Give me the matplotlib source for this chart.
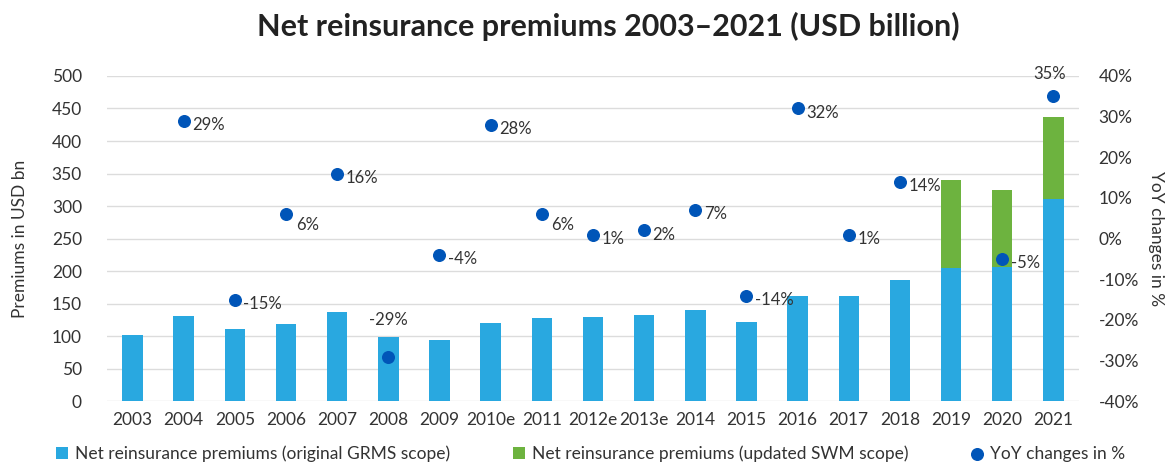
import matplotlib.pyplot as plt
import numpy as np

plt.rcParams['font.family'] = ['Lato', 'DejaVu Sans']

years = ['2003','2004','2005','2006','2007','2008','2009','2010e','2011','2012e','2013e',
         '2014','2015','2016','2017','2018','2019','2020','2021']
grms = [102,131,111,118,137,98,94,120,128,130,133,140,122,161,162,186,205,207,311]
swm_extra = [0]*16 + [135,117,126]
yoy = [np.nan,29,-15,6,16,-29,-4,28,6,1,2,7,-14,32,1,14,np.nan,-5,35]
yoy_labels = ['','29%','-15%','6%','16%','-29%','-4%','28%','6%','1%','2%','7%','-14%','32%','1%','14%','','-5%','35%']

blue, green, dot, txt = '#29A8E0', '#6DB33F', '#0055B8', '#333333'

fig = plt.figure(figsize=(11.69,4.66), dpi=100)
ax = fig.add_axes([0.0915,0.139,0.8315,0.698])
x = np.arange(len(years))
b1 = ax.bar(x, grms, width=0.4, color=blue, zorder=2)
b2 = ax.bar(x, swm_extra, width=0.4, bottom=grms, color=green, zorder=2)
ax.set_ylim(0,500); ax.set_xlim(-0.5, len(years)-0.5)
ax.set_yticks(range(0,501,50))
ax.set_xticks(x, years)
ax.grid(axis='y', color='#dcdcdc', lw=1, zorder=0)
ax.set_axisbelow(True)
for s in ax.spines.values(): s.set_visible(False)
ax.tick_params(length=0, labelsize=12.5, colors=txt, pad=8)
ax.tick_params(axis='y', pad=18)
ax.set_ylabel('Premiums in USD bn', fontsize=12.5, color=txt, labelpad=17)

ax2 = ax.twinx()
ax2.set_ylim(-40,40)
ax2.set_yticks(range(-40,41,10), [f'{v}%' for v in range(-40,41,10)])
for s in ax2.spines.values(): s.set_visible(False)
ax2.tick_params(length=0, labelsize=12.5, colors=txt, pad=14)
ax2.set_ylabel('YoY changes in %', fontsize=12.5, color=txt, rotation=270, labelpad=18)
sc = ax2.scatter(x, yoy, s=70, color=dot, zorder=3)
for i,(v,l) in enumerate(zip(yoy, yoy_labels)):
    if not l: continue
    off, ha = (6,-3), 'left'
    if years[i] in ('2006','2011'): off = (7,-8)
    if years[i] == '2008': off, ha = (0,26), 'center'
    if years[i] == '2021': off, ha = (-3,16), 'center'
    ax2.annotate(l, (i, v), xytext=off, textcoords='offset points', ha=ha, va='center',
                 fontsize=12, color=txt)

fig.suptitle('Net reinsurance premiums 2003\u20132021 (USD billion)', x=0.52, y=0.975,
             fontsize=22, fontweight='bold', color='#222222')
fig.legend([b1, b2, sc], ['Net reinsurance premiums (original GRMS scope)',
                          'Net reinsurance premiums (updated SWM scope)', 'YoY changes in %'],
           loc='lower center', bbox_to_anchor=(0.505,-0.025), ncol=3, frameon=False,
           fontsize=12.5, handlelength=0.7, handletextpad=0.4, columnspacing=3.6,
           labelcolor=txt)
fig.savefig('out.png', dpi=100)
